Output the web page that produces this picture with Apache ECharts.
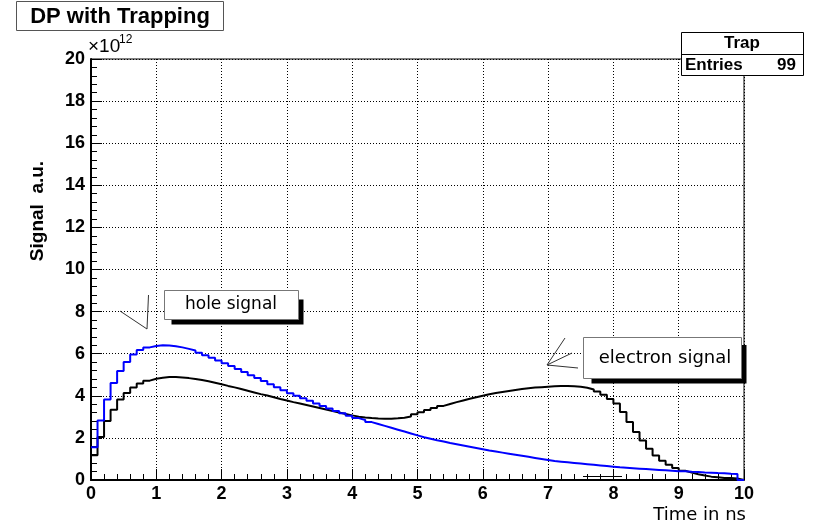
<!DOCTYPE html>
<html>
<head>
<meta charset="utf-8">
<script src="https://cdn.jsdelivr.net/npm/echarts@6/dist/echarts.min.js"></script>
<style>html,body{margin:0;padding:0;background:#fff}#c{width:819px;height:525px}</style>
</head>
<body>
<div id="c"></div>
<script>
// histogram binning (x axis: Time in ns)
const xMin = 0;
const binWidth = 0.1;
const xTickValues = [0,1,2,3,4,5,6,7,8,9,10];
const yTickValues = [0,2,4,6,8,10,12,14,16,18,20];

// hole signal (blue), units of 1e12
const holeSignal = [
  1.56, 2.83, 3.83, 4.61, 5.18, 5.61, 5.96, 6.17, 6.30, 6.37,
  6.40, 6.39, 6.35, 6.30, 6.23, 6.15, 6.05, 5.93, 5.81, 5.68,
  5.55, 5.41, 5.27, 5.13, 4.98, 4.84, 4.70, 4.55, 4.41, 4.26,
  4.12, 4.00, 3.88, 3.76, 3.64, 3.52, 3.40, 3.28, 3.17, 3.05,
  2.94, 2.85, 2.75, 2.66, 2.57, 2.48, 2.39, 2.30, 2.21, 2.12,
  2.03, 1.96, 1.89, 1.83, 1.76, 1.70, 1.64, 1.58, 1.52, 1.46,
  1.40, 1.35, 1.30, 1.25, 1.20, 1.15, 1.10, 1.05, 1.00, 0.95,
  0.90, 0.87, 0.84, 0.81, 0.78, 0.75, 0.72, 0.69, 0.66, 0.63,
  0.60, 0.58, 0.56, 0.54, 0.52, 0.50, 0.48, 0.46, 0.44, 0.42,
  0.41, 0.39, 0.38, 0.36, 0.35, 0.33, 0.32, 0.30, 0.29, 0
];

// total (hole + electron) signal, black
const totalSignal = [
  1.18, 2.04, 2.80, 3.34, 3.82, 4.13, 4.39, 4.58, 4.72, 4.81,
  4.86, 4.89, 4.89, 4.87, 4.84, 4.80, 4.75, 4.69, 4.62, 4.55,
  4.47, 4.40, 4.32, 4.24, 4.16, 4.08, 4.01, 3.93, 3.85, 3.78,
  3.70, 3.63, 3.56, 3.49, 3.42, 3.35, 3.28, 3.21, 3.14, 3.07,
  3.01, 2.97, 2.94, 2.92, 2.91, 2.91, 2.93, 2.96, 3.02, 3.12,
  3.22, 3.32, 3.42, 3.52, 3.61, 3.70, 3.78, 3.86, 3.93, 4.00,
  4.07, 4.13, 4.18, 4.23, 4.28, 4.32, 4.36, 4.39, 4.41, 4.43,
  4.45, 4.46, 4.46, 4.45, 4.43, 4.38, 4.30, 4.20, 4.05, 3.85,
  3.63, 3.23, 2.75, 2.28, 1.88, 1.48, 1.16, 0.92, 0.73, 0.57,
  0.44, 0.35, 0.27, 0.21, 0.16, 0.13, 0.10, 0.09, 0.07, 0
];

const titleText = 'DP with Trapping';
const statsName = 'Trap';
const statsEntries = 99;

function toSteps(values) {
  const pts = values.map((v, i) => [+(xMin + i * binWidth).toFixed(4), v]);
  pts.push([+(xMin + values.length * binWidth).toFixed(4), values[values.length - 1]]);
  return pts;
}

const chart = echarts.init(document.getElementById('c'), null, {renderer: 'canvas'});
const labelFont = {color: '#000', fontFamily: 'Liberation Sans, Arial, sans-serif', fontWeight: 'bold', fontSize: 18};

const axisCommon = {
  type: 'value',
  axisLine: {show: true, onZero: false, lineStyle: {color: '#000', width: 2}},
  axisTick: {show: true, inside: true, length: 11, lineStyle: {color: '#000', width: 1}},
  minorTick: {show: true, splitNumber: 5, length: 6, lineStyle: {color: '#000', width: 1}},
  splitLine: {show: true, lineStyle: {color: '#000', type: [1, 2], width: 1}},
  minorSplitLine: {show: false}
};

const G = 'Liberation Sans, Arial, sans-serif';
const D = 'DejaVu Sans, sans-serif';

chart.setOption({
  animation: false,
  backgroundColor: '#fff',
  grid: {left: 91, top: 59, width: 653, height: 421, show: true, borderColor: '#000', borderWidth: 1, containLabel: false},
  xAxis: Object.assign({}, axisCommon, {
    min: xTickValues[0], max: xTickValues[xTickValues.length - 1], interval: 1,
    axisLabel: Object.assign({}, labelFont, {margin: 5})
  }),
  yAxis: Object.assign({}, axisCommon, {
    min: yTickValues[0], max: yTickValues[yTickValues.length - 1], interval: 2,
    axisLabel: Object.assign({}, labelFont, {margin: 6})
  }),
  series: [
    {type: 'line', name: 'total', step: 'end', symbol: 'none', data: toSteps(totalSignal),
     lineStyle: {color: '#000', width: 2}, z: 3},
    {type: 'line', name: 'hole', step: 'end', symbol: 'none', data: toSteps(holeSignal),
     lineStyle: {color: '#0000ff', width: 2}, z: 4}
  ],
  graphic: [
    // title box
    {type: 'rect', shape: {x: 16.5, y: 1.5, width: 207, height: 29}, style: {fill: '#fff', stroke: '#555', lineWidth: 1}, z: 10},
    {type: 'text', x: 120, y: 17, style: {text: titleText, font: 'bold 22px ' + G, fill: '#000', textAlign: 'center', textVerticalAlign: 'middle'}, z: 11},
    // exponent
    {type: 'text', x: 88, y: 47, style: {text: '\u00d710', font: '19px ' + G, fill: '#000', textAlign: 'left', textVerticalAlign: 'middle'}, z: 11},
    {type: 'text', x: 119, y: 40, style: {text: '12', font: '12px ' + G, fill: '#000', textAlign: 'left', textVerticalAlign: 'middle'}, z: 11},
    // stats box
    {type: 'rect', shape: {x: 681.5, y: 32.5, width: 122, height: 43}, style: {fill: '#fff', stroke: '#000', lineWidth: 1}, z: 10},
    {type: 'line', shape: {x1: 681.5, y1: 54.5, x2: 803.5, y2: 54.5}, style: {stroke: '#000', lineWidth: 1}, z: 11},
    {type: 'text', x: 742, y: 43.5, style: {text: statsName, font: 'bold 17px ' + G, fill: '#000', textAlign: 'center', textVerticalAlign: 'middle'}, z: 11},
    {type: 'text', x: 685, y: 65.5, style: {text: 'Entries', font: 'bold 17px ' + G, fill: '#000', textAlign: 'left', textVerticalAlign: 'middle'}, z: 11},
    {type: 'text', x: 796, y: 65.5, style: {text: String(statsEntries), font: 'bold 17px ' + G, fill: '#000', textAlign: 'right', textVerticalAlign: 'middle'}, z: 11},
    // axis titles
    {type: 'text', x: 746, y: 515, style: {text: 'Time in ns', font: '18px ' + D, fill: '#000', textAlign: 'right', textVerticalAlign: 'middle'}, z: 11},
    {type: 'text', x: 38, y: 211, rotation: Math.PI / 2, style: {text: 'Signal  a.u.', font: 'bold 19px ' + G, fill: '#000', textAlign: 'center', textVerticalAlign: 'middle'}, z: 11},
    // hole signal label
    {type: 'rect', shape: {x: 171.5, y: 299.5, width: 132, height: 25}, style: {fill: '#000'}, z: 10},
    {type: 'rect', shape: {x: 164.5, y: 290.5, width: 134, height: 29}, style: {fill: '#fff', stroke: '#777', lineWidth: 1}, z: 11},
    {type: 'text', x: 231, y: 305, style: {text: 'hole signal', font: '17px ' + D, fill: '#000', textAlign: 'center', textVerticalAlign: 'middle'}, z: 12},
    {type: 'polyline', shape: {points: [[120, 311], [147, 329], [148.5, 295]]}, style: {stroke: '#333', lineWidth: 1, fill: null}, z: 11},
    // electron signal label
    {type: 'rect', shape: {x: 591.5, y: 345, width: 155, height: 38.5}, style: {fill: '#000'}, z: 10},
    {type: 'rect', shape: {x: 583.5, y: 337.5, width: 158, height: 41}, style: {fill: '#fff', stroke: '#777', lineWidth: 1}, z: 11},
    {type: 'text', x: 665, y: 358, style: {text: 'electron signal', font: '18px ' + D, fill: '#000', textAlign: 'center', textVerticalAlign: 'middle'}, z: 12},
    {type: 'polyline', shape: {points: [[565, 338], [547, 365], [572, 353]]}, style: {stroke: '#333', lineWidth: 1, fill: null}, z: 11},
    {type: 'line', shape: {x1: 547, y1: 365, x2: 578, y2: 368}, style: {stroke: '#333', lineWidth: 1}, z: 11},
    {type: 'line', shape: {x1: 583, y1: 476.5, x2: 622, y2: 476.5}, style: {stroke: '#000', lineWidth: 1}, z: 11}
  ]
});
</script>
</body>
</html>
